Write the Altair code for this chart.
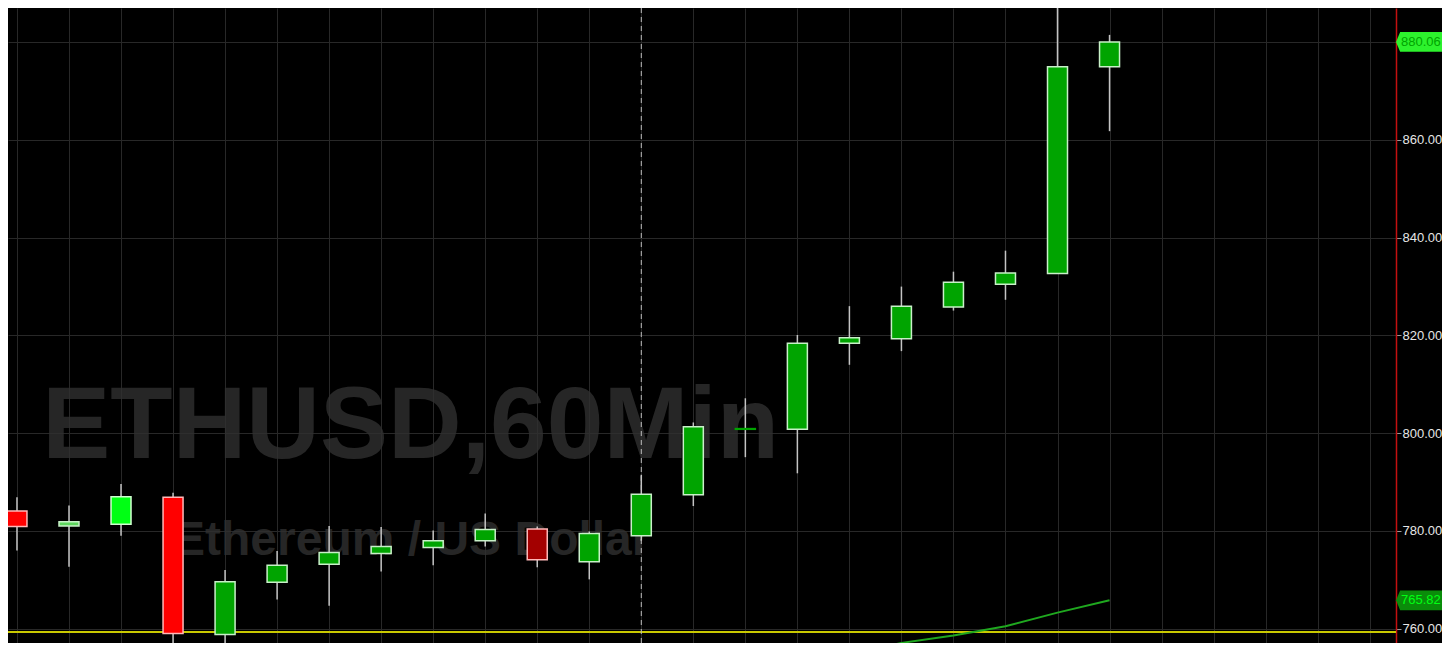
import altair as alt
import pandas as pd

# ---- data ----
idx    = list(range(22))
opens  = [784.1, 781.0, 781.4, 786.9, 758.8, 769.5, 773.2, 775.4, 776.6, 778.0, 780.4,
          773.7, 779.0, 787.4, 800.8, 800.8, 818.4, 819.35, 825.8, 830.5, 832.7, 875.0]
closes = [780.9, 781.9, 787.0, 759.0, 769.6, 773.0, 775.6, 776.8, 778.0, 780.3, 774.1,
          779.5, 787.5, 801.3, 800.95, 818.4, 819.55, 826.0, 830.9, 832.8, 875.0, 880.06]
highs  = [786.9, 785.2, 789.6, 787.8, 772.0, 775.9, 781.0, 780.8, 780.1, 783.6, 780.9,
          779.9, 791.5, 802.2, 807.15, 820.1, 826.0, 830.0, 833.05, 837.35, 892.0, 881.5]
lows   = [776.0, 772.7, 779.0, 754.0, 755.0, 766.0, 764.7, 771.7, 773.0, 776.8, 772.6,
          770.1, 778.0, 785.1, 795.1, 791.8, 814.0, 816.8, 825.1, 827.3, 832.7, 861.8]
kinds  = ["down", "up_light", "up_bright", "down", "up", "up", "up", "up", "up", "up", "down_dark",
          "up", "up", "up", "up_flat", "up", "up", "up", "up", "up", "up", "up"]

ma_idx = [15, 16, 17, 18, 19, 20, 21]
ma_val = [752.3, 754.7, 757.1, 758.6, 760.5, 763.3, 765.82]

support_level = 759.35
session_break = 12
last_price = 880.06
ma_last = 765.82

y_ticks = [760, 780, 800, 820, 840, 860, 880]
x_grid = list(range(27))

candles = pd.DataFrame({"i": idx, "open": opens, "close": closes,
                        "high": highs, "low": lows, "kind": kinds})
ma = pd.DataFrame({"i": ma_idx, "v": ma_val})

# ---- layout ----
W, H = 1388, 635
RP = 46
xs = alt.Scale(domain=[-0.0763, 26.41], nice=False, zero=False)
ys = alt.Scale(domain=[757.08, 887.0], nice=False, zero=False)

GRID = "#282828"
xaxis = alt.Axis(values=x_grid, grid=True, gridColor=GRID, gridWidth=1,
                 labels=False, ticks=False, domain=False, title=None)
yaxis = alt.Axis(orient="right", values=y_ticks, grid=True, gridColor=GRID, gridWidth=1,
                 domainColor="#c41010", domainWidth=1.5, tickColor="#9a9a9a", tickSize=5,
                 labelColor="#e6e6e6", labelFont="Liberation Sans", labelFontSize=13,
                 labelPadding=1, labelOverlap=False, title=None,
                 labelExpr="datum.value > 870 ? '' : format(datum.value, '.2f')")


def X(f):
    return alt.X(f, type="quantitative", scale=xs, axis=xaxis)


def Y(f):
    return alt.Y(f, type="quantitative", scale=ys, axis=yaxis)


WM_FONT = "Liberation Sans, Arial, sans-serif"

wm1 = alt.Chart(pd.DataFrame({"x": [0.487], "y": [794.94], "t": ["ETHUSD,60Min"]})).mark_text(
    align="left", baseline="alphabetic", font=WM_FONT, fontWeight="bold", fontSize=102,
    color="#303030", opacity=0.8
).encode(x=X("x"), y=Y("y"), text="t:N")

wm2 = alt.Chart(pd.DataFrame({"x": [3.0], "y": [775.09], "t": ["Ethereum / US Dollar"]})).mark_text(
    align="left", baseline="alphabetic", font=WM_FONT, fontWeight="bold", fontSize=48,
    color="#303030", opacity=0.8
).encode(x=X("x"), y=Y("y"), text="t:N")

support = alt.Chart(pd.DataFrame({"v": [support_level]})).mark_rule(
    color="#c9c900", strokeWidth=2
).encode(y=Y("v"))

ma_line = alt.Chart(ma).mark_line(color="#1fa81f", strokeWidth=2, clip=True).encode(
    x=X("i"), y=Y("v"))

sess = alt.Chart(pd.DataFrame({"s": [session_break]})).mark_rule(
    color="#bdbdbd", strokeDash=[5, 4], strokeWidth=1
).encode(x=X("s"))

wicks = alt.Chart(candles).mark_rule(color="#c4c4c4", strokeWidth=1.5, clip=True).encode(
    x=X("i"), y=Y("low"), y2="high")

kind_dom = ["up", "up_bright", "up_light", "up_flat", "down", "down_dark"]
bodies = alt.Chart(candles).mark_bar(width=20, strokeWidth=1.5, clip=True).encode(
    x=X("i"), y=Y("open"), y2="close",
    color=alt.Color("kind:N", legend=None, scale=alt.Scale(
        domain=kind_dom,
        range=["#00a400", "#00ff14", "#5cd65c", "#00a400", "#ff0000", "#a30000"])),
    stroke=alt.Stroke("kind:N", legend=None, scale=alt.Scale(
        domain=kind_dom,
        range=["#c8f0c8", "#d0ffd0", "#c8f0c8", "#00a400", "#ffb8b8", "#ffb8b8"])),
)

tags = pd.DataFrame({"v": [last_price, ma_last], "tag": ["last", "ma"]})
tag_shape = "M-1,0L-0.82,-0.43L1,-0.43L1,0.43L-0.82,0.43Z"
tag_bg = alt.Chart(tags).mark_point(shape=tag_shape, size=RP * RP, filled=True, opacity=1,
                                    strokeWidth=0, clip=False).encode(
    x=alt.value(W + RP / 2), y=Y("v"),
    fill=alt.Fill("tag:N", legend=None,
                  scale=alt.Scale(domain=["last", "ma"], range=["#2df22d", "#0a8c0a"])))
tag_txt = alt.Chart(tags).mark_text(align="left", baseline="middle", font="Liberation Sans",
                                    fontSize=13, clip=False).encode(
    x=alt.value(W + 5), y=Y("v"), text=alt.Text("v:Q", format=".2f"),
    color=alt.Color("tag:N", legend=None,
                    scale=alt.Scale(domain=["last", "ma"], range=["#0b3b0b", "#032b03"])))

chart = alt.layer(wm1, wm2, support, ma_line, sess, wicks, bodies, tag_bg, tag_txt).properties(
    width=W, height=H,
    autosize=alt.AutoSizeParams(type="none"),
    padding={"left": 0, "top": 0, "right": RP, "bottom": 0},
    background="#000000",
).configure_view(stroke=None, fill="#000000")

chart.save("out.html", embed_options={"renderer": "svg", "actions": False})
